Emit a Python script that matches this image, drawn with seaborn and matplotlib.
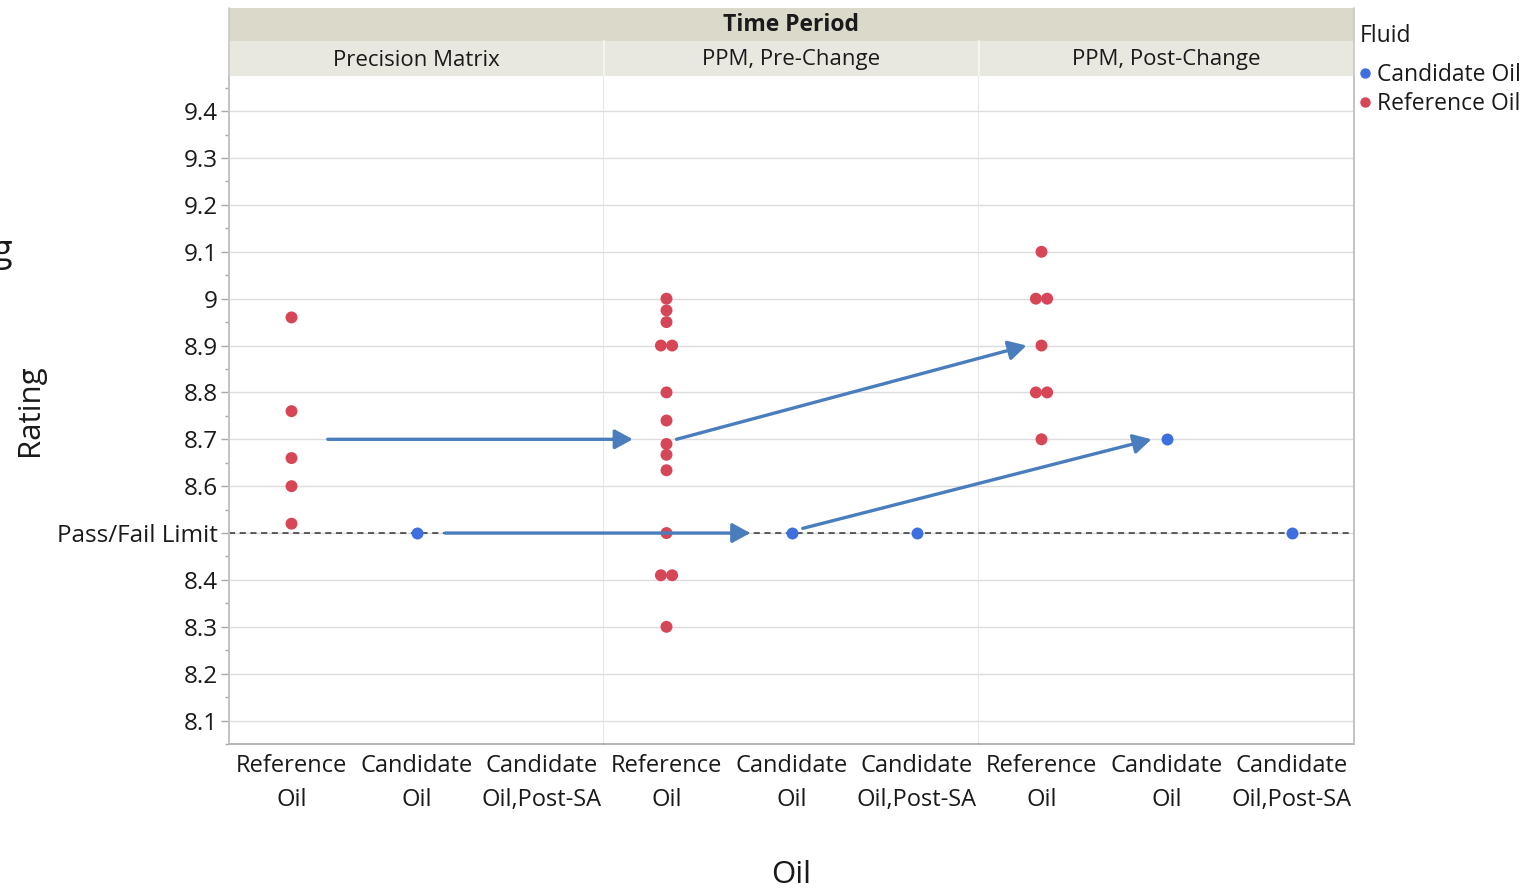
import numpy as np
import pandas as pd
import matplotlib
matplotlib.use("Agg")
import matplotlib.pyplot as plt
import seaborn as sns
from matplotlib.patches import Rectangle, ConnectionPatch
from matplotlib.lines import Line2D

# ---------------- data ----------------
periods = ["Precision Matrix", "PPM, Pre-Change", "PPM, Post-Change"]
oil_categories = ["Reference Oil", "Candidate Oil", "Candidate Oil,Post-SA"]
oil_tick_labels = ["Reference\nOil", "Candidate\nOil", "Candidate\nOil,Post-SA"]
fluids = ["Candidate Oil", "Reference Oil"]

pm_reference = [8.96, 8.76, 8.66, 8.60, 8.52]
pm_candidate = [8.50]
pm_candidate_post = []
pre_reference = [9.00, 8.975, 8.95, 8.90, 8.90, 8.80, 8.74, 8.69, 8.667,
                 8.634, 8.50, 8.41, 8.41, 8.30]
pre_candidate = [8.50]
pre_candidate_post = [8.50]
post_reference = [9.10, 9.00, 9.00, 8.90, 8.80, 8.80, 8.70]
post_candidate = [8.70]
post_candidate_post = [8.50]

pass_fail_limit = 8.5
y_ticks = [8.1, 8.2, 8.3, 8.4, 8.5, 8.6, 8.7, 8.8, 8.9, 9.0, 9.1, 9.2, 9.3, 9.4]

# arrows: (panel from, x from, y from, panel to, x to, y to)
arrows = [
    (0, 0.29, 8.70, 1, -0.27, 8.70),
    (0, 1.23, 8.50, 1, 0.67, 8.50),
    (1, 0.08, 8.70, 2, -0.12, 8.90),
    (1, 1.09, 8.51, 2, 0.88, 8.70),
]

series = {
    periods[0]: [pm_reference, pm_candidate, pm_candidate_post],
    periods[1]: [pre_reference, pre_candidate, pre_candidate_post],
    periods[2]: [post_reference, post_candidate, post_candidate_post],
}
rows = []
for period, lists in series.items():
    for oil, vals in zip(oil_categories, lists):
        fluid = "Reference Oil" if oil == "Reference Oil" else "Candidate Oil"
        for v in vals:
            rows.append({"Time Period": period, "Oil": oil, "Fluid": fluid, "Rating": v})
df = pd.DataFrame(rows)

palette = {"Candidate Oil": "#3d6fdf", "Reference Oil": "#d74656"}
arrow_color = "#4a7dbd"

# ---------------- style ----------------
sns.set_theme(style="white")
plt.rcParams["font.family"] = ["Open Sans", "DejaVu Sans"]
text_color = "#1a1a1a"

W, H = 1529, 889
fig = plt.figure(figsize=(W / 100, H / 100), dpi=100)
axes = fig.subplots(1, 3, sharey=True)
L, R, T, B = 229, 1354, 76, 744
fig.subplots_adjust(left=L / W, right=R / W, top=1 - T / H, bottom=1 - B / H, wspace=0)

TIE_GAP = 0.09  # side-by-side spacing of tied values (category units)


def spread_ties(ax):
    """Place tied values side by side, centred on their category (JMP style)."""
    for coll in ax.collections:
        off = np.asarray(coll.get_offsets(), dtype=float)
        if off.size == 0:
            continue
        cats = np.round(off[:, 0])
        keys = np.round(off[:, 1], 6)
        for c in np.unique(cats):
            for k in np.unique(keys[cats == c]):
                idx = np.where((cats == c) & (keys == k))[0]
                n = len(idx)
                off[idx, 0] = c + (np.arange(n) - (n - 1) / 2) * TIE_GAP
        coll.set_offsets(off)


for i, (ax, period) in enumerate(zip(axes, periods)):
    sub = df[df["Time Period"] == period]
    sns.stripplot(data=sub, x="Oil", y="Rating", hue="Fluid", order=oil_categories,
                  hue_order=fluids, palette=palette, size=8.6, linewidth=0, jitter=False,
                  ax=ax, legend=False, zorder=4)
    spread_ties(ax)
    ax.set_xlim(-0.5, 2.5)
    ax.set_ylim(8.051, 9.475)
    ax.set_xlabel("")
    ax.set_ylabel("")
    ax.set_xticks(range(len(oil_categories)))
    ax.set_xticklabels(oil_tick_labels, fontsize=17, color=text_color, linespacing=1.55)
    ax.tick_params(axis="x", length=0, pad=7)
    ax.yaxis.grid(True, color="#dcdcdc", lw=1)
    ax.xaxis.grid(False)
    ax.set_axisbelow(True)
    ax.axhline(pass_fail_limit, color="#333333", ls=(0, (4, 3)), lw=1.1, zorder=3)
    ax.spines["top"].set_visible(False)
    ax.spines["bottom"].set_color("#a8a8a8")
    ax.spines["bottom"].set_linewidth(1.2)
    ax.spines["left"].set_color("#e2e2e2")
    ax.spines["right"].set_color("#e2e2e2")
    ax.spines["left"].set_linewidth(1.2)
    ax.spines["right"].set_linewidth(1.2)
    if i > 0:
        ax.spines["left"].set_visible(False)
        ax.tick_params(axis="y", length=0, which="both")

axes[0].spines["left"].set_color("#a8a8a8")
axes[2].spines["right"].set_color("#a8a8a8")

ax0 = axes[0]
ax0.set_yticks(y_ticks)
ax0.set_yticklabels(["Pass/Fail Limit" if abs(t - pass_fail_limit) < 1e-9 else f"{t:g}"
                     for t in y_ticks], fontsize=17.5, color=text_color)
minor = [t + 0.05 for t in y_ticks[:-1]] + [y_ticks[0] - 0.05, y_ticks[-1] + 0.05]
ax0.set_yticks(minor, minor=True)
ax0.tick_params(axis="y", which="major", length=6, width=1, color="#a8a8a8", pad=2, left=True)
ax0.tick_params(axis="y", which="minor", length=3, width=1, color="#a8a8a8", left=True)

# arrows across panels
for pa, xa, ya, pb, xb, yb in arrows:
    con = ConnectionPatch(xyA=(xa, ya), coordsA=axes[pa].transData,
                          xyB=(xb, yb), coordsB=axes[pb].transData,
                          arrowstyle="-|>,head_length=0.4,head_width=0.22",
                          mutation_scale=27, color=arrow_color, lw=2.4,
                          shrinkA=0, shrinkB=0, zorder=6)
    fig.add_artist(con)

# header strips
fig.add_artist(Rectangle((L / W, 1 - 41 / H), (R - L) / W, 33 / H, transform=fig.transFigure,
                         facecolor="#dbd9ca", edgecolor="none", zorder=1))
fig.text((L + R) / 2 / W, 1 - 25 / H, "Time Period", ha="center", va="center",
         fontsize=16.5, fontweight="bold", color=text_color)
pw = (R - L) / 3
for i, period in enumerate(periods):
    x0 = L + i * pw
    fig.add_artist(Rectangle((x0 / W, 1 - T / H), pw / W, 35 / H, transform=fig.transFigure,
                             facecolor="#e8e7e0", edgecolor="none", zorder=1))
    if i > 0:
        fig.add_artist(Line2D([x0 / W, x0 / W], [1 - T / H, 1 - 41 / H], transform=fig.transFigure,
                              color="#f4f4f0", lw=1.5, zorder=2))
    fig.text((x0 + pw / 2) / W, 1 - 60 / H, period, ha="center", va="center",
             fontsize=16, color=text_color)
fig.add_artist(Line2D([L / W, L / W], [1 - B / H, 1 - 8 / H], transform=fig.transFigure,
                      color="#c8c8c8", lw=1.2, zorder=2))
fig.add_artist(Line2D([R / W, R / W], [1 - B / H, 1 - 8 / H], transform=fig.transFigure,
                      color="#c8c8c8", lw=1.2, zorder=2))

# axis titles
fig.text((L + R) / 2 / W, 1 - 875 / H, "Oil", ha="center", va="center", fontsize=22.5,
         color=text_color)
fig.text(30 / W, 1 - 410 / H, "Rating", ha="center", va="center", rotation=90, fontsize=22.5,
         color=text_color)

# cropped fragment at the left edge of the reference picture
fig.text(12 / W, 1 - 252 / H, "g", ha="right", va="center", fontsize=26, color=text_color)

# legend
handles = [Line2D([], [], marker="o", ls="", color=palette[f], markersize=6.5) for f in fluids]
leg = fig.legend(handles, fluids, title="Fluid", loc="upper left",
                 bbox_to_anchor=(1354 / W, 1 - 18 / H), frameon=False, fontsize=16.5,
                 title_fontsize=16.5, handlelength=0.45, handletextpad=0.3, labelspacing=0.2,
                 alignment="left", borderaxespad=0, borderpad=0.25)
leg._legend_box.sep = 11
for t in leg.get_texts():
    t.set_color(text_color)
leg.get_title().set_color(text_color)

fig.savefig("out.png", dpi=100)
